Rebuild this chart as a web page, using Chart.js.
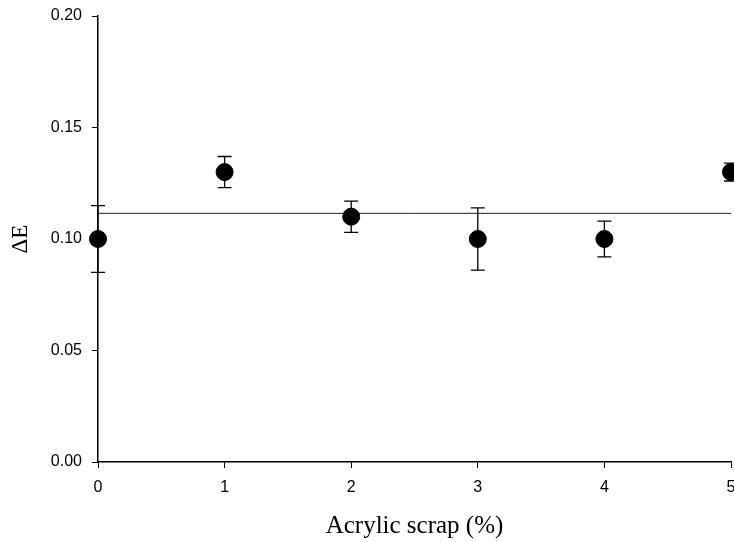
<!DOCTYPE html>
<html>
<head>
<meta charset="utf-8">
<script src="https://cdn.jsdelivr.net/npm/chart.js@4"></script>
<style>
  html,body{margin:0;padding:0;background:#fff;}
  canvas{display:block;}
</style>
</head>
<body>
<canvas id="chartDE" width="734" height="542"></canvas>
<script>
// datos
const scrapPct = [0, 1, 2, 3, 4, 5];
const deltaE = [0.100, 0.130, 0.110, 0.100, 0.100, 0.130];
const deltaErr = [0.015, 0.007, 0.007, 0.014, 0.008, 0.004];
const refLevel = 0.1115;
const xTicks = [0, 1, 2, 3, 4, 5];
const yTicks = [0, 0.05, 0.10, 0.15, 0.20];

Chart.defaults.color = '#000';

// barras de error con caps
const errorBars = {
  id: 'errorBars',
  beforeDatasetsDraw(chart){
    const {ctx, scales:{x, y}} = chart;
    ctx.save();
    ctx.strokeStyle = '#000';
    ctx.lineWidth = 1.3;
    scrapPct.forEach((v, i) => {
      const px = x.getPixelForValue(v);
      const top = y.getPixelForValue(deltaE[i] + deltaErr[i]);
      const bot = y.getPixelForValue(deltaE[i] - deltaErr[i]);
      ctx.beginPath();
      ctx.moveTo(px, top); ctx.lineTo(px, bot);
      ctx.moveTo(px - 7, top); ctx.lineTo(px + 7, top);
      ctx.moveTo(px - 7, bot); ctx.lineTo(px + 7, bot);
      ctx.stroke();
    });
    ctx.restore();
  }
};

new Chart(document.getElementById('chartDE'), {
  type: 'scatter',
  data: {
    datasets: [
      {
        label: 'ΔE',
        data: scrapPct.map((v, i) => ({x: v, y: deltaE[i]})),
        backgroundColor: '#000',
        borderColor: '#000',
        pointRadius: 8.5,
        pointHoverRadius: 8.5,
        clip: false,
        order: 0
      },
      {
        type: 'line',
        label: 'ref',
        data: [{x: xTicks[0], y: refLevel}, {x: xTicks[xTicks.length - 1], y: refLevel}],
        borderColor: '#222',
        borderWidth: 1,
        pointRadius: 0,
        fill: false,
        order: 1
      }
    ]
  },
  options: {
    responsive: false,
    animation: false,
    layout: {autoPadding: false, padding: {top: 16, right: 3, left: 0, bottom: 0}},
    plugins: {legend: {display: false}, tooltip: {enabled: false}},
    scales: {
      x: {
        type: 'linear',
        min: 0, max: 5,
        afterBuildTicks: s => { s.ticks = xTicks.map(v => ({value: v})); },
        afterFit: s => { s.height = 80; s.paddingLeft = 0; s.paddingRight = 0; },
        ticks: {font: {family: 'Liberation Sans', size: 16}, padding: 10, maxRotation: 0},
        grid: {drawOnChartArea: false, drawTicks: true, tickLength: 6, color: '#000', lineWidth: 1},
        border: {color: '#000', width: 1.5},
        title: {display: true, text: 'Acrylic scrap (%)', font: {family: 'Liberation Serif', size: 25}, padding: {top: 2, bottom: 1}}
      },
      y: {
        min: 0, max: 0.2,
        afterBuildTicks: s => { s.ticks = yTicks.map(v => ({value: v})); },
        afterFit: s => { s.width = 98; s.paddingTop = 0; s.paddingBottom = 0; },
        ticks: {font: {family: 'Liberation Sans', size: 16}, padding: 10, callback: v => v.toFixed(2)},
        grid: {drawOnChartArea: false, drawTicks: true, tickLength: 6, color: '#000', lineWidth: 1},
        border: {color: '#000', width: 1.5},
        title: {display: true, text: 'ΔE', font: {family: 'Liberation Serif', size: 23}, padding: {top: 7, bottom: 7}}
      }
    }
  },
  plugins: [errorBars]
});
</script>
</body>
</html>
